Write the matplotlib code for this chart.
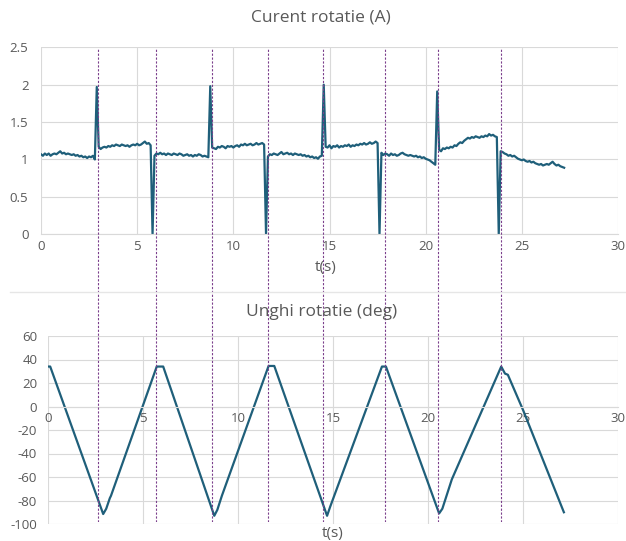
import numpy as np
import matplotlib
matplotlib.use("Agg")
import matplotlib.pyplot as plt
from matplotlib.lines import Line2D
from matplotlib.ticker import FormatStrFormatter, MultipleLocator

plt.rcParams['font.family'] = ['Open Sans', 'DejaVu Sans']
plt.rcParams['axes.unicode_minus'] = False

# current, sampled every 0.1 s from t = 0
i_cur = [
    1.07, 1.05, 1.08, 1.06, 1.08, 1.05, 1.07, 1.08, 1.07, 1.09,
    1.11, 1.08, 1.09, 1.07, 1.08, 1.07, 1.06, 1.07, 1.05, 1.06,
    1.04, 1.05, 1.03, 1.04, 1.02, 1.04, 1.03, 1.05, 1.00,
    1.97,
    1.17, 1.14, 1.16, 1.17, 1.16, 1.18, 1.17, 1.19, 1.18, 1.20,
    1.19, 1.18, 1.20, 1.19, 1.18, 1.19, 1.17, 1.19, 1.20, 1.19,
    1.21, 1.19, 1.20, 1.22, 1.24, 1.21, 1.22, 1.19,
    0.0,
    1.05, 1.08, 1.07, 1.09, 1.07, 1.08, 1.06, 1.08, 1.07, 1.06,
    1.08, 1.07, 1.06, 1.08, 1.07, 1.05, 1.06, 1.07, 1.05, 1.06,
    1.04, 1.06, 1.05, 1.07, 1.06, 1.04, 1.05, 1.04, 1.03,
    1.98,
    1.16, 1.15, 1.14, 1.17, 1.16, 1.18, 1.17, 1.15, 1.18, 1.17,
    1.18, 1.16, 1.18, 1.19, 1.17, 1.20, 1.19, 1.21, 1.19, 1.20,
    1.21, 1.19, 1.20, 1.22, 1.20, 1.21, 1.22, 1.20,
    0.0,
    1.04, 1.07, 1.06, 1.08, 1.07, 1.06, 1.08, 1.10, 1.07, 1.08,
    1.09, 1.07, 1.08, 1.06, 1.08, 1.07, 1.06, 1.07, 1.05, 1.06,
    1.04, 1.05, 1.03, 1.04, 1.02, 1.03, 1.01, 1.04, 1.05,
    2.00,
    1.17, 1.16, 1.19, 1.15, 1.18, 1.17, 1.19, 1.16, 1.18, 1.17,
    1.19, 1.18, 1.20, 1.17, 1.19, 1.18, 1.20, 1.19, 1.21, 1.20,
    1.22, 1.20, 1.21, 1.23, 1.21, 1.22, 1.24, 1.22,
    0.0,
    1.09, 1.06, 1.08, 1.07, 1.05, 1.08, 1.06, 1.07, 1.05, 1.06,
    1.08, 1.09, 1.07, 1.06, 1.05, 1.06, 1.05, 1.04, 1.05, 1.03,
    1.04, 1.02, 1.03, 1.01, 1.00, 0.99, 0.97, 0.95, 0.93,
    1.91,
    1.13, 1.11, 1.15, 1.14, 1.16, 1.15, 1.17, 1.16, 1.19, 1.18,
    1.21, 1.23, 1.22, 1.25, 1.27, 1.29, 1.28, 1.30, 1.29, 1.31,
    1.30, 1.29, 1.31, 1.30, 1.32, 1.31, 1.34, 1.32, 1.33, 1.31, 1.30,
    0.0,
    1.11, 1.10, 1.08, 1.07, 1.05, 1.06, 1.04, 1.05, 1.03, 1.01,
    1.00, 0.99, 1.00, 0.98, 0.97, 0.98, 0.96, 0.97, 0.95, 0.94,
    0.93, 0.94, 0.92, 0.93, 0.94, 0.93, 0.95, 0.97, 0.94, 0.92,
    0.93, 0.91, 0.90, 0.89,
]
t_cur = np.arange(len(i_cur)) * 0.1

# angle breakpoints
t_ang = [0, 0.1, 2.89, 3.05, 3.24, 3.3, 5.71, 6.05, 8.74, 8.9, 9.14, 11.6, 11.9,
         14.68, 14.85, 17.57, 17.78, 20.58, 20.75, 21.25, 23.85, 24.05, 24.2, 25.0, 27.15]
ang = [34, 34, -91.5, -87, -78, -76, 34, 34, -93, -88, -76, 34.5, 34.5,
       -93, -85, 34, 34, -91, -87, -62, 34, 28, 27, -3, -90]

# moments marked with dashed lines
events = [2.97, 5.97, 8.9, 11.8, 14.67, 17.89, 20.64, 23.93]

line_col = '#1f5f7a'
grid_col = '#d9d9d9'
txt_col = '#595959'

W, H = 626, 541
fig = plt.figure(figsize=(W / 100, H / 100), dpi=100)


def style(ax):
    for s in ['top', 'right', 'left']:
        ax.spines[s].set_visible(False)
    ax.spines['bottom'].set_color(grid_col)
    ax.grid(True, color=grid_col, lw=0.8)
    ax.set_axisbelow(True)
    ax.tick_params(length=0, labelsize=9.5, labelcolor=txt_col)
    ax.set_xlim(0, 30)
    ax.xaxis.set_major_locator(MultipleLocator(5))


# top chart
ax1 = fig.add_axes([41 / W, 1 - 234.3 / H, 577 / W, 187 / H])
style(ax1)
ax1.plot(t_cur, i_cur, color=line_col, lw=1.6)
ax1.set_ylim(0, 2.5)
ax1.yaxis.set_major_locator(MultipleLocator(0.5))
ax1.yaxis.set_major_formatter(FormatStrFormatter('%g'))
ax1.tick_params(axis='x', pad=4)
ax1.tick_params(axis='y', pad=9)

# bottom chart
ax2 = fig.add_axes([48.3 / W, 1 - 524 / H, 569.7 / W, 188 / H])
style(ax2)
ax2.plot(t_ang, ang, color=line_col, lw=1.6)
ax2.set_ylim(-100, 60)
ax2.yaxis.set_major_locator(MultipleLocator(20))
ax2.spines['bottom'].set_position(('data', 0))
ax2.tick_params(axis='x', pad=4)
ax2.tick_params(axis='y', pad=8)

# titles and axis labels
fig.text(321 / W, 1 - 17 / H, 'Curent rotatie (A)', ha='center', va='center',
         fontsize=12.5, color=txt_col)
fig.text(322 / W, 1 - 312 / H, 'Unghi rotatie (deg)', ha='center', va='center',
         fontsize=12.5, color=txt_col)
fig.text(326 / W, 1 - 268 / H, 't(s)', ha='center', va='center',
         fontsize=11, color=txt_col)
fig.text(333 / W, 1 - 534 / H, 't(s)', ha='center', va='center',
         fontsize=11, color=txt_col)

# separator between the two charts
fig.add_artist(Line2D([10 / W, 1], [1 - 292 / H, 1 - 292 / H],
                      transform=fig.transFigure, color='#e6e6e6', lw=1))

# overlay with the event lines, using the top chart's time scale
ax3 = fig.add_axes([41 / W, 1 - 522 / H, 577 / W, 473 / H])
ax3.set_xlim(0, 30)
ax3.set_ylim(0, 1)
ax3.axis('off')
ax3.patch.set_alpha(0)
for e in events:
    ax3.axvline(e, color='#7b3f8c', lw=0.8, ls=(0, (2, 1.5)))

fig.savefig('out.png', dpi=100)
